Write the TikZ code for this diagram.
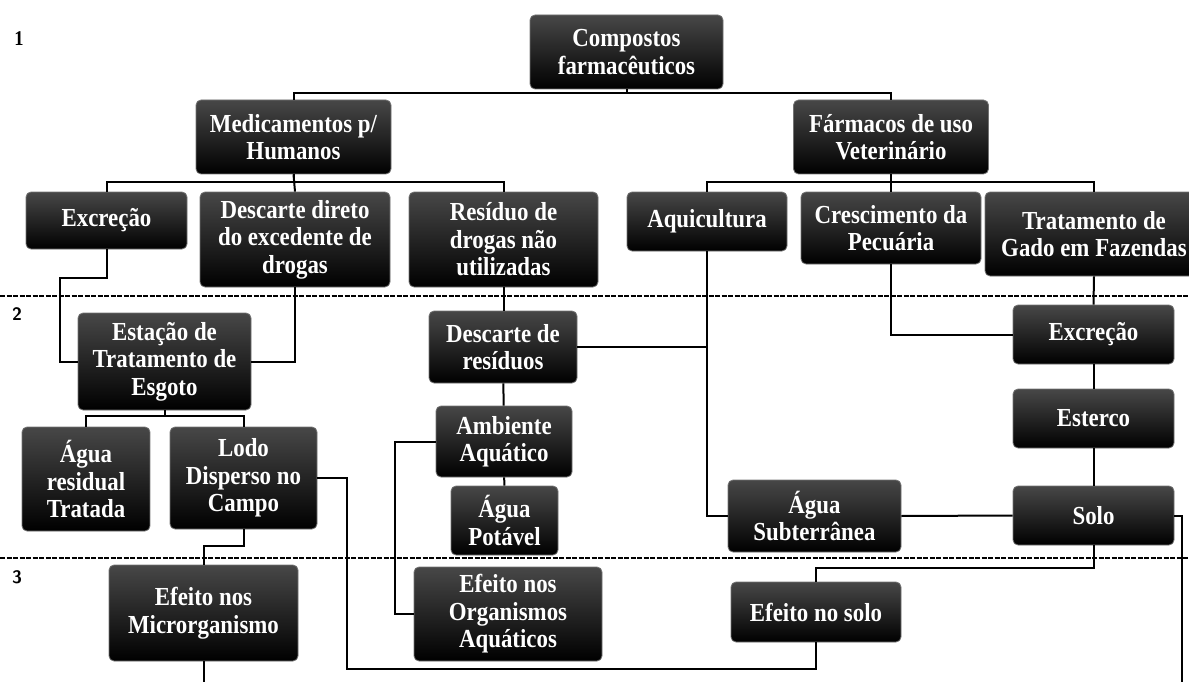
\documentclass[tikz,border=0pt]{standalone}
\usepackage{fontspec}
\setmainfont{Liberation Serif}[FakeStretch=0.88]
\usetikzlibrary{backgrounds}

\begin{document}
\begin{tikzpicture}[x=1pt,y=-1pt,
  caixa/.style={draw=black!55,line width=0.8pt,rounded corners=5pt,top color=black!72,bottom color=black,
    text=white,align=center,inner sep=1pt,font=\bfseries\fontsize{26}{27.5}\selectfont},
  nivel/.style={font=\bfseries\fontsize{21}{21}\selectfont},
  liga/.style={line width=2pt},
  divisa/.style={line width=2.2pt,dash pattern=on 5pt off 1.5pt}
]
  \useasboundingbox (0,0) rectangle (1189,682);
  \clip (0,0) rectangle (1189,682);

  % niveis
  \node[nivel] (n1) at (19,39) {1};
  \node[nivel,font=\sffamily\bfseries\fontsize{18}{18}\selectfont] (n2) at (17,314) {2};
  \node[nivel,font=\sffamily\bfseries\fontsize{18}{18}\selectfont] (n3) at (17,577) {3};

  % nivel 1
  \node[caixa,minimum width=193pt,minimum height=74pt] (comp) at (626.5,52) {Compostos\\farmacêuticos};
  \node[caixa,minimum width=195pt,minimum height=74pt] (medh) at (293.5,137) {Medicamentos p/\\Humanos};
  \node[caixa,minimum width=195pt,minimum height=74pt] (farv) at (891,137) {Fármacos de uso\\Veterinário};

  \node[caixa,minimum width=161pt,minimum height=57pt] (excr) at (106.5,220.5) {Excreção};
  \node[caixa,minimum width=190pt,minimum height=95pt] (desc) at (295,239.5) {Descarte direto\\do excedente de\\drogas};
  \node[caixa,minimum width=189pt,minimum height=95pt] (resid) at (503.5,239.5) {Resíduo de\\drogas não\\utilizadas};
  \node[caixa,minimum width=160pt,minimum height=59pt] (aqui) at (707,221.5) {Aquicultura};
  \node[caixa,minimum width=180pt,minimum height=72pt] (cresc) at (891,228) {Crescimento da\\Pecuária};
  \node[caixa,minimum width=218pt,minimum height=84pt] (trat) at (1094,234) {Tratamento de\\Gado em Fazendas};

  % nivel 2
  \node[caixa,minimum width=173pt,minimum height=97pt] (ete) at (164.5,361.5) {Estação de\\Tratamento de\\Esgoto};
  \node[caixa,minimum width=148pt,minimum height=72pt] (dres) at (503,347) {Descarte de\\resíduos};
  \node[caixa,minimum width=161pt,minimum height=59pt] (excv) at (1093.5,334.5) {Excreção};
  \node[caixa,minimum width=136pt,minimum height=71pt] (amb) at (504,441.5) {Ambiente\\Aquático};
  \node[caixa,minimum width=161pt,minimum height=59pt] (est) at (1093.5,418.5) {Esterco};
  \node[caixa,minimum width=128pt,minimum height=104pt] (agres) at (86,479) {Água\\residual\\Tratada};
  \node[caixa,minimum width=147pt,minimum height=102pt] (lodo) at (243.5,478) {Lodo\\Disperso no\\Campo};
  \node[caixa,minimum width=107pt,minimum height=69pt] (agpot) at (504.5,520.5) {Água\\Potável};
  \node[caixa,minimum width=173pt,minimum height=72pt] (agsub) at (814.5,516) {Água\\Subterrânea};
  \node[caixa,minimum width=161pt,minimum height=59pt] (solo) at (1093.5,515.5) {Solo};

  % nivel 3
  \node[caixa,minimum width=189pt,minimum height=96pt] (efmic) at (203.5,613) {Efeito nos\\Microrganismo};
  \node[caixa,minimum width=188pt,minimum height=94pt] (eforg) at (508,614) {Efeito nos\\Organismos\\Aquáticos};
  \node[caixa,minimum width=170pt,minimum height=60pt] (efsolo) at (816,612) {Efeito no solo};

  \coordinate (fimmic) at (203.5,682);
  \coordinate (fimsolo) at (1182,682);

  \begin{scope}[on background layer]
    \draw[divisa] (0,296) -- (1189,296);
    \draw[divisa] (0,558) -- (1189,558);
  \end{scope}

  % ligacoes
  \draw[liga] (comp.south) -- ++(0,4) -| (medh.north);
  \draw[liga] (comp.south) -- ++(0,4) -| (farv.north);
  \draw[liga] (medh.south) -- ++(0,8) -| (excr.north);
  \draw[liga] (medh.south) -- ++(0,8) -| (resid.north);
  \draw[liga] (medh.south) -- (desc.north);
  \draw[liga] (farv.south) -- ++(0,8) -| (aqui.north);
  \draw[liga] (farv.south) -- ++(0,8) -| (trat.north);
  \draw[liga] (farv.south) -- (cresc.north);

  \draw[liga] (excr.south) -- ++(0,29) -- ++(-47,0) |- (ete.west);
  \draw[liga] (desc.south) |- (ete.east);
  \draw[liga] (resid.south) -- (resid.south |- dres.north);
  \draw[liga] (dres.east) -- (aqui.south |- dres.east);
  \draw[liga] (aqui.south) |- (agsub.west);
  \draw[liga] (cresc.south) |- (excv.west);
  \draw[liga] (trat.south) -- (excv.north);
  \draw[liga] (excv) -- (est);
  \draw[liga] (est) -- (solo);
  \draw[liga] (agsub.east) -- (solo.west);
  \draw[liga] (solo.east) -| (fimsolo);
  \draw[liga] (solo.south) -- ++(0,23) -| (efsolo.north);

  \draw[liga] (ete.south) -- ++(0,6) -| (agres.north);
  \draw[liga] (ete.south) -- ++(0,6) -| (lodo.north);
  \draw[liga] (lodo.south) -- ++(0,17) -| (efmic.north);
  \draw[liga] (lodo.east) -- ++(30,0) -- ++(0,191) -| (efsolo.south);
  \draw[liga] (efmic.south) -- (fimmic);

  \draw[liga] (dres) -- (amb);
  \draw[liga] (amb) -- (agpot);
  \draw[liga] (amb.west) -- ++(-41,0) |- (eforg.west);
\end{tikzpicture}
\end{document}
